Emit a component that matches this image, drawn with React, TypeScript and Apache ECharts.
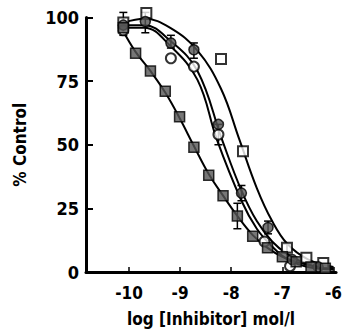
import React, { useEffect, useRef } from "react";
import * as echarts from "echarts";

// Axis ticks
const xTicks = [-10, -9, -8, -7, -6];
const yTicks = [0, 25, 50, 75, 100];

// Filled (hatched) squares — leftmost curve
const fsX = [-10.11, -9.87, -9.58, -9.29, -9.01, -8.73, -8.44, -8.16, -7.88, -7.58, -7.29, -7.0, -6.73, -6.44, -6.16];
const fsY = [96, 86, 79, 71, 61, 49, 38, 30, 22, 14, 9.5, 6, 4, 2, 1.5];

// Hatched circles — middle curve
const hcX = [-10.11, -9.68, -9.18, -8.73, -8.25, -7.8, -7.28, -6.81, -6.3];
const hcY = [97, 98.4, 90, 87.3, 58, 31, 17.5, 4.9, 2];

// Open circles — inner right curve
const ocX = [-10.11, -9.18, -8.73, -8.25, -7.35, -6.85];
const ocY = [95, 84, 80.7, 54, 12, 2.3];

// Open squares — outer right curve
const osX = [-10.11, -9.66, -8.2, -7.77, -6.91, -6.53, -6.2];
const osY = [98, 101.8, 83.7, 47.4, 9.5, 5.6, 3.5];

// Fitted curves
const curveLeftX = [-10.15, -9.87, -9.58, -9.29, -9.01, -8.73, -8.44, -8.16, -7.88, -7.58, -7.29, -7.0, -6.7, -6.4, -6.0];
const curveLeftY = [96, 86.5, 79, 70.5, 60.5, 49.5, 38.5, 30, 22, 14.5, 9.5, 6, 3.8, 2.4, 1.5];

const curveOuterX = [-10.1, -9.7, -9.2, -8.66, -8.2, -7.84, -7.5, -7.2, -6.9, -6.5, -6.0];
const curveOuterY = [98, 99.5, 96, 87, 72, 52, 33, 20, 11, 5, 2];

const curveMidX = [-10.1, -9.7, -9.2, -8.66, -8.18, -7.8, -7.5, -7.2, -6.9, -6.5, -6.0];
const curveMidY = [97, 97, 91, 79, 52, 32, 20, 12, 7, 3, 1];

const curveInnerX = [-10.1, -9.7, -9.2, -8.66, -8.28, -7.8, -7.5, -7.2, -6.9, -6.5, -6.0];
const curveInnerY = [96, 96, 89, 75.5, 52, 28, 17, 10, 5, 2, 1];

// Error bars: [x, low, high]
const errX = [-10.11, -9.68, -9.18, -8.73, -8.25, -7.8, -7.88, -7.28, -6.91];
const errLow = [93, 94, 88, 84, 50, 28, 17, 15, 8];
const errHigh = [102, 102, 93, 90, 58, 34, 27, 20, 11];

const zip = (xs: number[], ys: number[]) => xs.map((x, i) => [x, ys[i]]);

const FONT = "'Liberation Sans Narrow', 'DejaVu Sans Condensed', 'Liberation Sans', sans-serif";

export default function App() {
  const ref = useRef<HTMLDivElement>(null);
  useEffect(() => {
    if (!ref.current) return;
    const chart = echarts.init(ref.current, null, { renderer: "svg" });
    const lineStyle = { color: "#000", width: 2 };
    const curve = (xs: number[], ys: number[]) => ({
      type: "line",
      data: zip(xs, ys),
      smooth: 0.4,
      showSymbol: false,
      symbol: "none",
      lineStyle,
      clip: false,
      z: 2,
    });
    chart.setOption({
      animation: false,
      backgroundColor: "#ffffff",
      grid: { left: 86, top: 17.5, width: 256, height: 255, containLabel: false },
      xAxis: {
        type: "value",
        min: -10.84,
        max: -5.95,
        name: "log [Inhibitor] mol/l",
        nameLocation: "middle",
        nameGap: 38,
        nameTextStyle: { fontFamily: FONT, fontWeight: "bold", fontSize: 17, color: "#000" },
        axisLine: { lineStyle: { color: "#000", width: 3 } },
        axisTick: { show: true, inside: true, length: 5, customValues: xTicks, lineStyle: { color: "#000", width: 1.5 } },
        axisLabel: { customValues: xTicks, margin: 12, fontFamily: FONT, fontWeight: "bold", fontSize: 17, color: "#000" },
        splitLine: { show: false },
      },
      yAxis: {
        type: "value",
        min: 0,
        max: 100,
        interval: 25,
        name: "% Control",
        nameLocation: "middle",
        nameGap: 58,
        nameRotate: 90,
        nameTextStyle: { fontFamily: FONT, fontWeight: "bold", fontSize: 17, color: "#000" },
        axisLine: { show: true, lineStyle: { color: "#000", width: 3 } },
        axisTick: { show: true, inside: true, length: 7, lineStyle: { color: "#000", width: 2 } },
        axisLabel: { margin: 7, fontFamily: FONT, fontWeight: "bold", fontSize: 18, color: "#000" },
        splitLine: { show: false },
      },
      series: [
        curve(curveLeftX, curveLeftY),
        curve(curveOuterX, curveOuterY),
        curve(curveMidX, curveMidY),
        curve(curveInnerX, curveInnerY),
        {
          type: "custom",
          clip: false,
          z: 3,
          data: errX.map((x, i) => [x, errLow[i], errHigh[i]]),
          encode: { x: 0, y: [1, 2] },
          renderItem: (params: any, api: any) => {
            const x = api.value(0);
            const p1 = api.coord([x, api.value(1)]);
            const p2 = api.coord([x, api.value(2)]);
            const w = 4;
            const st = { stroke: "#000", lineWidth: 1.5 };
            return {
              type: "group",
              children: [
                { type: "line", shape: { x1: p1[0], y1: p1[1], x2: p2[0], y2: p2[1] }, style: st },
                { type: "line", shape: { x1: p1[0] - w, y1: p1[1], x2: p1[0] + w, y2: p1[1] }, style: st },
                { type: "line", shape: { x1: p2[0] - w, y1: p2[1], x2: p2[0] + w, y2: p2[1] }, style: st },
              ],
            };
          },
        },
        {
          type: "scatter",
          data: zip(osX, osY),
          symbol: "rect",
          symbolSize: 10,
          clip: false,
          z: 4,
          itemStyle: { color: "#fff", borderColor: "#000", borderWidth: 2 },
        },
        {
          type: "scatter",
          data: zip(ocX, ocY),
          symbol: "circle",
          symbolSize: 10,
          clip: false,
          z: 4,
          itemStyle: { color: "#fff", borderColor: "#000", borderWidth: 2 },
        },
        {
          type: "scatter",
          data: zip(hcX, hcY),
          symbol: "circle",
          symbolSize: 10,
          clip: false,
          z: 5,
          itemStyle: { color: "#555", borderColor: "#000", borderWidth: 1.5 },
        },
        {
          type: "scatter",
          data: zip(fsX, fsY),
          symbol: "rect",
          symbolSize: 10,
          clip: false,
          z: 5,
          itemStyle: { color: "#555", borderColor: "#000", borderWidth: 1.5 },
        },
      ],
    });
    return () => chart.dispose();
  }, []);
  return (
    <div
      ref={ref}
      style={{ position: "absolute", left: 0, top: 0, width: 345, height: 332 }}
    />
  );
}
